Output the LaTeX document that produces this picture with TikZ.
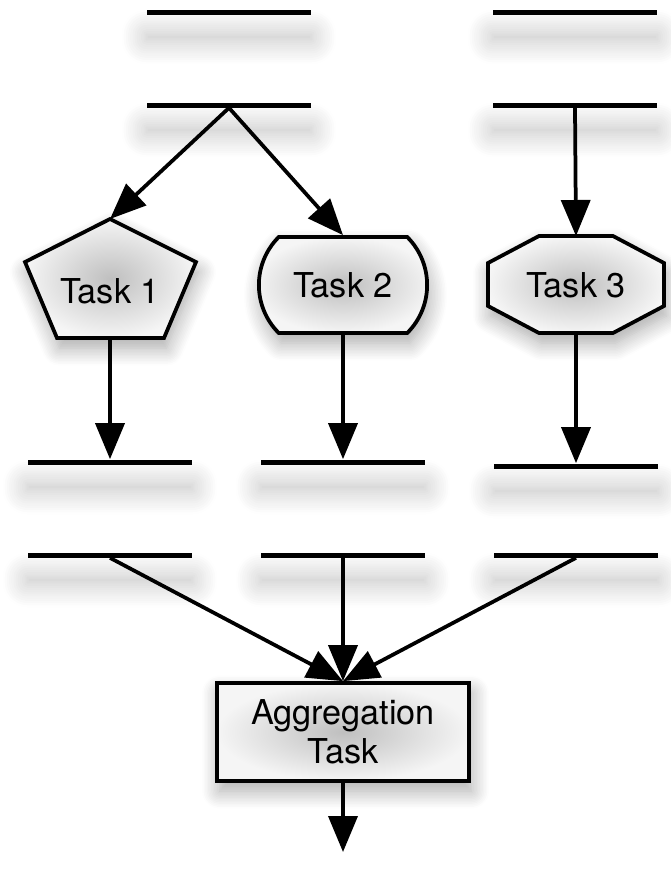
\documentclass[tikz,border=0pt]{standalone}
\usepackage{fontspec}
\setmainfont{TeX Gyre Heros}
\usetikzlibrary{arrows.meta,shapes.misc,shadows.blur}

\tikzset{
  bar/.style={fill=black,inner sep=0pt,minimum width=3.3cm,minimum height=0.1cm,
    blur shadow={shadow xshift=0cm,shadow yshift=-0.5cm,shadow blur radius=0.5cm,
      shadow blur steps=12,shadow opacity=26}},
  flow/.style={line width=0.075cm,-{Triangle[length=0.72cm,width=0.58cm,fill=black]}},
  tasktext/.style={font=\fontsize{19.5}{22}\selectfont},
  task/.style={draw=black,line width=0.075cm,inner color=black!25,outer color=black!4,
    blur shadow={shadow xshift=0.05cm,shadow yshift=-0.2cm,shadow blur radius=0.35cm,
      shadow blur steps=12,shadow opacity=35}},
}

\begin{document}
\begin{tikzpicture}[x=0.02cm,y=-0.02cm]
\useasboundingbox (0,0) rectangle (671,870);
% bars
\node[bar] (in1) at (229,12) {};
\node[bar] (in3) at (575,12) {};
\node[bar] (fork1) at (229,105) {};
\node[bar] (fork3) at (575,105) {};
\node[bar] (done1) at (110,462) {};
\node[bar] (done2) at (343,462) {};
\node[bar] (done3) at (576,466) {};
\node[bar] (join1) at (110,555) {};
\node[bar] (join2) at (343,555) {};
\node[bar] (join3) at (576,555) {};
% tasks
\draw[task] (110,219) coordinate (t1n) -- (196,262) -- (164,338) -- (57,338) -- (25,262) -- cycle;
\coordinate (t1s) at (110,338);
\node[tasktext] (t1) at (110,291) {Task 1};
\node[task,tasktext,rounded rectangle,rounded rectangle arc length=90,
  minimum width=3.6cm,minimum height=1.92cm] (t2) at (343,285) {Task 2};
\draw[task] (539,236) -- (613,236) -- (664,263) -- (664,306)
  -- (613,333) -- (539,333) -- (488,306) -- (488,263) -- cycle;
\coordinate (t3n) at (576,236);
\coordinate (t3s) at (576,333);
\node[tasktext] (t3) at (576,285) {Task 3};
\node[task,tasktext,rectangle,align=center,minimum width=5.04cm,minimum height=1.96cm]
  (agg) at (343,732) {Aggregation\\Task};
\coordinate (out) at (343,852);
% connectors
\draw[flow] (fork1.south) -- (t1n);
\draw[flow] (fork1.south) -- (t2.north);
\draw[flow] (fork3.south) -- (t3n);
\draw[flow] (t1s) -- (done1.north);
\draw[flow] (t2.south) -- (done2.north);
\draw[flow] (t3s) -- (done3.north);
\draw[flow] (join1.south) -- (agg.north);
\draw[flow] (join2.south) -- (agg.north);
\draw[flow] (join3.south) -- (agg.north);
\draw[flow] (agg.south) -- (out);
\end{tikzpicture}
\end{document}
